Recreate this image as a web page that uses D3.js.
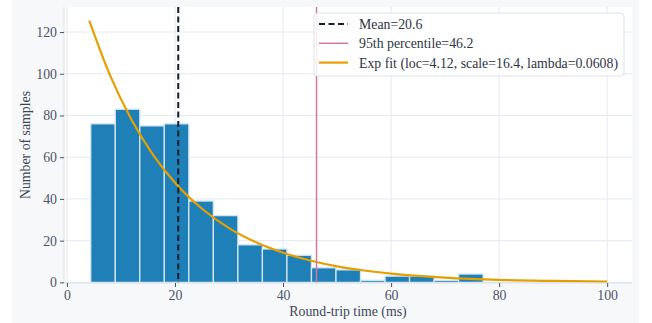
<!DOCTYPE html>
<html>
<head>
<meta charset="utf-8">
<script src="https://cdn.jsdelivr.net/npm/d3@7"></script>
<style>
  body { margin: 0; background: #fff; }
  text { font-family: "Liberation Serif", "Times New Roman", serif; }
</style>
</head>
<body>
<div id="chart"></div>
<script>
  // histogram of round-trip times
  var binStart = 4.4, binWidth = 4.54;
  var counts = [76, 83, 75, 76, 39, 32, 18, 16, 13, 7, 6, 1, 3, 3, 1, 4];
  var meanValue = 20.6, p95Value = 46.2;
  // exponential fit curve
  var fitX = [4.12, 8, 12, 16, 20, 25, 30, 35, 40, 45, 50, 55, 60, 70, 80, 90, 100];
  var fitY = [125.5, 99.1, 77.7, 60.9, 47.8, 35.3, 26.0, 19.2, 14.2, 10.5, 7.7, 5.7, 4.2, 2.3, 1.2, 0.7, 0.4];
  var xTicks = [0, 20, 40, 60, 80, 100];
  var yTicks = [0, 20, 40, 60, 80, 100, 120];
  var legendLabels = ["Mean=20.6", "95th percentile=46.2", "Exp fit (loc=4.12, scale=16.4, lambda=0.0608)"];

  var W = 652, H = 323, FS = "13.8px";
  var plot = {left: 64, right: 632, top: 7, bottom: 283};

  var svg = d3.select("#chart").append("svg")
    .attr("width", W).attr("height", H);

  svg.append("rect").attr("x", 12).attr("y", 0)
    .attr("width", 627).attr("height", H).attr("fill", "#f7f8fa");
  svg.append("rect").attr("x", plot.left).attr("y", plot.top)
    .attr("width", plot.right - plot.left).attr("height", plot.bottom - plot.top)
    .attr("fill", "#fff");

  var x = d3.scaleLinear().domain([-0.55, 104.6]).range([plot.left, plot.right]);
  var y = d3.scaleLinear().domain([-0.3, 132]).range([plot.bottom, plot.top]);

  var g = svg.append("g");

  // grid
  g.selectAll(".gx").data(xTicks).enter().append("line")
    .attr("x1", d => x(d)).attr("x2", d => x(d))
    .attr("y1", plot.top).attr("y2", plot.bottom)
    .attr("stroke", "#e4e8ef").attr("stroke-width", 1);
  g.selectAll(".gy").data(yTicks).enter().append("line")
    .attr("x1", plot.left).attr("x2", plot.right)
    .attr("y1", d => y(d)).attr("y2", d => y(d))
    .attr("stroke", "#e4e8ef").attr("stroke-width", 1);

  // bars
  g.selectAll(".bar").data(counts).enter().append("rect")
    .attr("x", (d, i) => x(binStart + i * binWidth))
    .attr("width", x(binWidth) - x(0))
    .attr("y", d => y(d))
    .attr("height", d => y(0) - y(d))
    .attr("fill", "#1f80b8")
    .attr("stroke", "#d3e5f1").attr("stroke-width", 1.3);

  // fit curve
  var line = d3.line().x(d => x(d[0])).y(d => y(d[1])).curve(d3.curveMonotoneX);
  g.append("path").datum(d3.zip(fitX, fitY))
    .attr("d", line).attr("fill", "none")
    .attr("stroke", "#e69f00").attr("stroke-width", 2.2);

  // mean and percentile lines
  g.append("line").attr("x1", x(meanValue)).attr("x2", x(meanValue))
    .attr("y1", plot.top).attr("y2", plot.bottom)
    .attr("stroke", "#151e2e").attr("stroke-width", 2)
    .attr("stroke-dasharray", "6,3.5");
  g.append("line").attr("x1", x(p95Value)).attr("x2", x(p95Value))
    .attr("y1", plot.top).attr("y2", plot.bottom)
    .attr("stroke", "#cc79a7").attr("stroke-width", 1.5);

  // spines
  svg.append("line").attr("x1", plot.left).attr("x2", plot.left)
    .attr("y1", plot.top).attr("y2", plot.bottom).attr("stroke", "#dbe0e8");
  svg.append("line").attr("x1", plot.left).attr("x2", plot.right)
    .attr("y1", plot.bottom).attr("y2", plot.bottom).attr("stroke", "#dbe0e8");

  // axes
  var xAxis = svg.append("g").attr("transform", "translate(0," + plot.bottom + ")")
    .call(d3.axisBottom(x).tickValues(xTicks).tickSize(4).tickPadding(3));
  var yAxis = svg.append("g").attr("transform", "translate(" + plot.left + ",0)")
    .call(d3.axisLeft(y).tickValues(yTicks).tickSize(4).tickPadding(3));
  [xAxis, yAxis].forEach(function (a) {
    a.select(".domain").remove();
    a.selectAll(".tick line").attr("stroke", "#4a5466");
    a.selectAll(".tick text").attr("fill", "#4a5466")
      .style("font-family", "'Liberation Serif', serif").style("font-size", FS);
  });

  svg.append("text").attr("x", 348).attr("y", 316)
    .attr("text-anchor", "middle").attr("fill", "#3d4657")
    .style("font-size", FS).text("Round-trip time (ms)");
  svg.append("text").attr("transform", "translate(30," + ((plot.top + plot.bottom) / 2) + ") rotate(-90)")
    .attr("text-anchor", "middle").attr("fill", "#3d4657")
    .style("font-size", FS).text("Number of samples");

  // legend
  var leg = svg.append("g").attr("transform", "translate(314,13)");
  leg.append("rect").attr("width", 310).attr("height", 63).attr("rx", 3)
    .attr("fill", "#fff").attr("fill-opacity", 0.85)
    .attr("stroke", "#dde2ea");
  var styles = [
    {c: "#151e2e", w: 2, dash: "6,3.5"},
    {c: "#cc79a7", w: 1.5, dash: null},
    {c: "#e69f00", w: 2.2, dash: null}
  ];
  legendLabels.forEach(function (lab, i) {
    var yy = 11 + i * 19.3;
    leg.append("line").attr("x1", 5).attr("x2", 34).attr("y1", yy).attr("y2", yy)
      .attr("stroke", styles[i].c).attr("stroke-width", styles[i].w)
      .attr("stroke-dasharray", styles[i].dash);
    leg.append("text").attr("x", 45).attr("y", yy + 5)
      .attr("fill", "#2d3443").style("font-size", FS).text(lab);
  });
</script>
</body>
</html>
